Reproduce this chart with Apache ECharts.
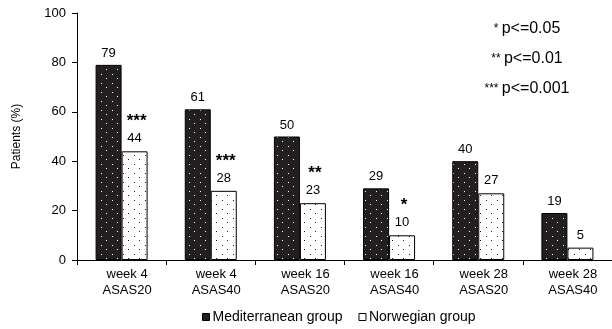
<!DOCTYPE html>
<html><head><meta charset="utf-8">
<script src="https://cdn.jsdelivr.net/npm/echarts@6/dist/echarts.min.js"></script>
<style>html,body{margin:0;padding:0;background:#fff}#c{width:612px;height:329px}</style>
</head><body><div id="c"></div>
<script>
const categories = ['week 4\nASAS20','week 4\nASAS40','week 16\nASAS20','week 16\nASAS40','week 28\nASAS20','week 28\nASAS40'];
const mediterranean = [79, 61, 50, 29, 40, 19];
const norwegian = [44, 28, 23, 10, 27, 5];
const significance = ['***', '***', '**', '*', '', ''];
const yTicks = [0, 20, 40, 60, 80, 100];
const pNotes = ['* p<=0.05', '** p<=0.01', '*** p<=0.001'];

function pattern(bg, dot) {
  const c = document.createElement('canvas');
  c.width = 11; c.height = 9;
  const g = c.getContext('2d');
  g.fillStyle = bg; g.fillRect(0, 0, 11, 9);
  g.fillStyle = dot;
  g.fillRect(2, 2, 1, 1);
  g.fillRect(7, 6, 1, 1);
  return c;
}
const darkPat = { image: pattern('#231f20', '#ffffff'), repeat: 'repeat' };
const lightPat = { image: pattern('#ffffff', '#231f20'), repeat: 'repeat' };
const FONT = 'Liberation Sans';

const chart = echarts.init(document.getElementById('c'), null, { renderer: 'canvas' });
chart.setOption({
  animation: false,
  textStyle: { fontFamily: FONT, color: '#000' },
  grid: { left: 77, top: 13, width: 540, height: 247, containLabel: false },
  legend: {
    top: 305, left: 197, itemWidth: 7, itemHeight: 7, itemGap: 16,
    icon: 'rect',
    textStyle: { fontFamily: FONT, fontSize: 14, color: '#000', padding: [0, 0, 0, -2] },
    data: [
      { name: 'Mediterranean group', itemStyle: { color: '#231f20', borderColor: '#000', borderWidth: 1 } },
      { name: 'Norwegian group', itemStyle: { color: '#fff', borderColor: '#000', borderWidth: 1 } }
    ]
  },
  xAxis: {
    type: 'category', data: categories,
    axisLine: { lineStyle: { color: '#000', width: 1 } },
    axisTick: { show: true, alignWithLabel: false, length: 5, lineStyle: { color: '#000' } },
    axisLabel: { color: '#000', fontSize: 13, fontFamily: FONT, lineHeight: 16, margin: 6, padding: [0, 0, 0, 11] }
  },
  yAxis: {
    type: 'value', min: yTicks[0], max: yTicks[yTicks.length - 1], interval: 20,
    name: 'Patients (%)', nameLocation: 'middle', nameGap: 54, nameRotate: 90,
    nameTextStyle: { color: '#000', fontSize: 12, fontFamily: FONT },
    axisLine: { show: true, lineStyle: { color: '#000', width: 1 } },
    axisTick: { show: true, length: 5, lineStyle: { color: '#000' } },
    splitLine: { show: false },
    axisLabel: { color: '#000', fontSize: 13, fontFamily: FONT, margin: 11 }
  },
  series: [
    {
      name: 'Mediterranean group', type: 'bar', data: mediterranean,
      barWidth: 26, barGap: '0%',
      itemStyle: { color: darkPat, borderColor: '#000', borderWidth: 1 },
      label: { show: true, position: 'top', distance: 5, color: '#000', fontSize: 13, fontFamily: FONT }
    },
    {
      name: 'Norwegian group', type: 'bar', data: norwegian,
      barWidth: 26,
      itemStyle: { color: lightPat, borderColor: '#000', borderWidth: 1 },
      label: {
        show: true, position: 'top', distance: 5, color: '#000', fontFamily: FONT,
        formatter: p => significance[p.dataIndex] ? '{s|' + significance[p.dataIndex] + '}\n{v|' + p.value + '}' : '{v|' + p.value + '}',
        rich: {
          s: { fontSize: 17, fontWeight: 'bold', fontFamily: FONT, color: '#000', lineHeight: 20, padding: [0, 0, 0, 4] },
          v: { fontSize: 13, fontFamily: FONT, color: '#000', lineHeight: 15 }
        }
      }
    }
  ],
  graphic: pNotes.map((t, i) => {
    const sp = t.indexOf(' ');
    return {
      type: 'text', x: 527, y: 29 + i * 30,
      style: {
        text: '{a|' + t.slice(0, sp) + '} {b|' + t.slice(sp + 1) + '}',
        align: 'center', verticalAlign: 'middle',
        rich: {
          a: { fontSize: 12, fontFamily: FONT, fill: '#000' },
          b: { fontSize: 16, fontFamily: FONT, fill: '#000' }
        }
      }
    };
  })
});
</script></body></html>
